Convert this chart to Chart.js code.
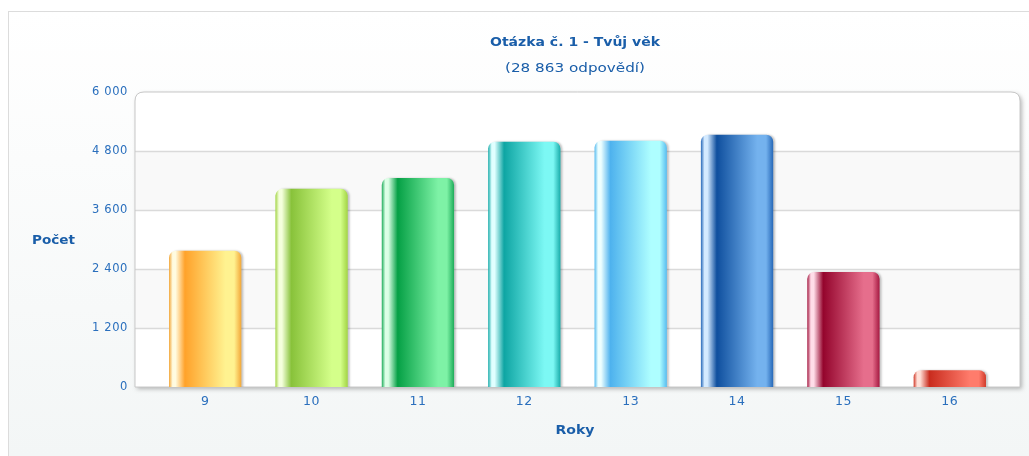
<!DOCTYPE html>
<html>
<head>
<meta charset="utf-8">
<script src="https://cdn.jsdelivr.net/npm/chart.js@4"></script>
<style>
  html, body { margin: 0; padding: 0; background: #fff; }
  #wrap { width: 1029px; height: 456px; position: relative; }
</style>
</head>
<body>
<div id="wrap"><canvas id="chart"></canvas></div>
<script>
/* Otázka č. 1 – age histogram, glossy cylinder bars. */

const ages = ['9', '10', '11', '12', '13', '14', '15', '16'];
const counts = [2770, 4030, 4250, 4990, 5010, 5130, 2340, 343];
const yTicks = [0, 1200, 2400, 3600, 4800, 6000];

const titleText = 'Otázka č. 1 - Tvůj věk';
const subtitleText = '(28 863 odpovědí)';
const yTitle = 'Počet';
const xTitle = 'Roky';

// per-bar shading: [edge, highlight, deep, light]
const barShades = [
  ['#f2a638', '#fffbe0', '#ffa22a', '#fff290'],
  ['#a2d444', '#f4ffdc', '#88c23a', '#d4ff8a'],
  ['#1eac5a', '#dcffe6', '#05a045', '#7ef2a6'],
  ['#18acaa', '#e0ffff', '#0ea5a3', '#7cf8f4'],
  ['#58bcf0', '#eeffff', '#4eb2ee', '#aefeff'],
  ['#2668b8', '#d4eaff', '#0f4f9e', '#74b2ee'],
  ['#a41840', '#ffdce8', '#94042c', '#e66e8c'],
  ['#d03a2a', '#ffe0d8', '#c92c1e', '#ff7c6c'],
];

const TEXT_BLUE = '#1a5ea9';
const TICK_BLUE = '#2a6fbd';
const FRAME_PAD = 17;

function fmt(v) {
  return String(v).replace(/\B(?=(\d{3})+(?!\d))/g, ' ');
}

function barFill(ctx) {
  const shades = barShades[ctx.dataIndex % barShades.length];
  const chart = ctx.chart;
  const xs = chart.scales.x;
  if (!xs || ctx.type !== 'data' || !chart.chartArea) return shades[2];
  const cx = xs.getPixelForValue(ctx.dataIndex);
  const w = xs.width / ages.length * 0.68;
  if (!isFinite(cx) || !isFinite(w) || w <= 0) return shades[2];
  const g = chart.ctx.createLinearGradient(cx - w / 2, 0, cx + w / 2, 0);
  g.addColorStop(0, shades[0]);
  g.addColorStop(0.05, shades[1]);
  g.addColorStop(0.09, shades[1]);
  g.addColorStop(0.22, shades[2]);
  g.addColorStop(0.78, shades[3]);
  g.addColorStop(0.9, shades[3]);
  g.addColorStop(1, shades[0]);
  return g;
}

// text stretched horizontally to the given width, centred or left-anchored
function wideText(ctx, text, x, y, width, align) {
  const w = ctx.measureText(text).width;
  const k = width / w;
  ctx.save();
  ctx.textAlign = 'left';
  const x0 = align === 'center' ? x - width / 2 : x;
  ctx.translate(x0, y);
  ctx.scale(k, 1);
  ctx.fillText(text, 0, 0);
  ctx.restore();
}

const backdrop = {
  id: 'backdrop',
  beforeDraw(chart) {
    const { ctx, chartArea: a, scales } = chart;
    ctx.letterSpacing = '0.6px';
    ctx.save();
    // outer panel
    const pg = ctx.createLinearGradient(0, 11, 0, chart.height);
    pg.addColorStop(0, '#ffffff');
    pg.addColorStop(1, '#f3f6f6');
    ctx.fillStyle = pg;
    ctx.fillRect(8.5, 11.5, chart.width, chart.height);
    ctx.strokeStyle = '#dcdcdc';
    ctx.lineWidth = 1;
    ctx.strokeRect(8.5, 11.5, chart.width + 10, chart.height + 10);

    // plot frame with rounded top corners and soft shadow
    const l = a.left - FRAME_PAD, r = a.right + FRAME_PAD, t = a.top, b = a.bottom;
    const rad = 9;
    const framePath = () => {
      ctx.beginPath();
      ctx.moveTo(l, b);
      ctx.lineTo(l, t + rad);
      ctx.quadraticCurveTo(l, t, l + rad, t);
      ctx.lineTo(r - rad, t);
      ctx.quadraticCurveTo(r, t, r, t + rad);
      ctx.lineTo(r, b);
      ctx.closePath();
    };
    ctx.save();
    ctx.shadowColor = 'rgba(0,0,0,0.28)';
    ctx.shadowBlur = 4;
    ctx.shadowOffsetX = 2;
    ctx.shadowOffsetY = 2;
    framePath();
    ctx.fillStyle = '#ffffff';
    ctx.fill();
    ctx.restore();

    // alternate bands
    const y = scales.y;
    ctx.fillStyle = '#f9f9f9';
    for (let i = 1; i < yTicks.length - 1; i += 2) {
      const y0 = y.getPixelForValue(yTicks[i]);
      const y1 = y.getPixelForValue(yTicks[i + 1]);
      ctx.fillRect(l + 1, y1, r - l - 2, y0 - y1);
    }
    // grid lines
    ctx.strokeStyle = '#dadada';
    ctx.lineWidth = 1.5;
    for (let i = 1; i < yTicks.length - 1; i++) {
      const py = Math.round(y.getPixelForValue(yTicks[i])) + 0.5;
      ctx.beginPath();
      ctx.moveTo(l, py);
      ctx.lineTo(r, py);
      ctx.stroke();
    }
    framePath();
    ctx.strokeStyle = '#c8c8c8';
    ctx.lineWidth = 1;
    ctx.stroke();

    // texts
    ctx.letterSpacing = '0px';
    ctx.fillStyle = TEXT_BLUE;
    ctx.textBaseline = 'alphabetic';
    ctx.font = 'bold 12.5px "DejaVu Sans"';
    wideText(ctx, titleText, 575, 46, 170, 'center');
    ctx.font = '12.5px "DejaVu Sans"';
    wideText(ctx, subtitleText, 575, 72, 140, 'center');
    ctx.font = 'bold 13px "DejaVu Sans"';
    wideText(ctx, xTitle, 575, 434, 39, 'center');
    wideText(ctx, yTitle, 32, 244, 43, 'left');
    ctx.restore();
  },
  beforeDatasetsDraw(chart) {
    const ctx = chart.ctx;
    ctx.save();
    ctx.shadowColor = 'rgba(0,0,0,0.22)';
    ctx.shadowBlur = 2;
    ctx.shadowOffsetX = 2;
    ctx.shadowOffsetY = 0;
  },
  afterDatasetsDraw(chart) {
    chart.ctx.restore();
  },
};

new Chart(document.getElementById('chart'), {
  type: 'bar',
  data: {
    labels: ages,
    datasets: [{
      data: counts,
      backgroundColor: barFill,
      borderWidth: 0,
      borderRadius: { topLeft: 7, topRight: 7 },
      borderSkipped: 'bottom',
      barPercentage: 0.68,
      categoryPercentage: 1,
    }],
  },
  options: {
    responsive: true,
    maintainAspectRatio: false,
    animation: false,
    layout: { padding: { top: 92, right: 26, left: 0, bottom: 0 } },
    plugins: { legend: { display: false }, tooltip: { enabled: false } },
    scales: {
      x: {
        grid: { display: false, drawTicks: false },
        border: { display: false },
        ticks: { color: TICK_BLUE, font: { family: 'DejaVu Sans', size: 12.5 }, padding: 7 },
        afterFit(s) { s.height = 69; },
      },
      y: {
        min: 0,
        max: 6000,
        grid: { display: false, drawTicks: false },
        border: { display: false },
        ticks: {
          stepSize: 1200,
          color: TICK_BLUE,
          font: { family: 'DejaVu Sans', size: 11.5 },
          padding: 24,
          callback: (v) => fmt(v),
        },
        afterFit(s) { s.width = 152; },
      },
    },
  },
  plugins: [backdrop],
});
</script>
</body>
</html>
